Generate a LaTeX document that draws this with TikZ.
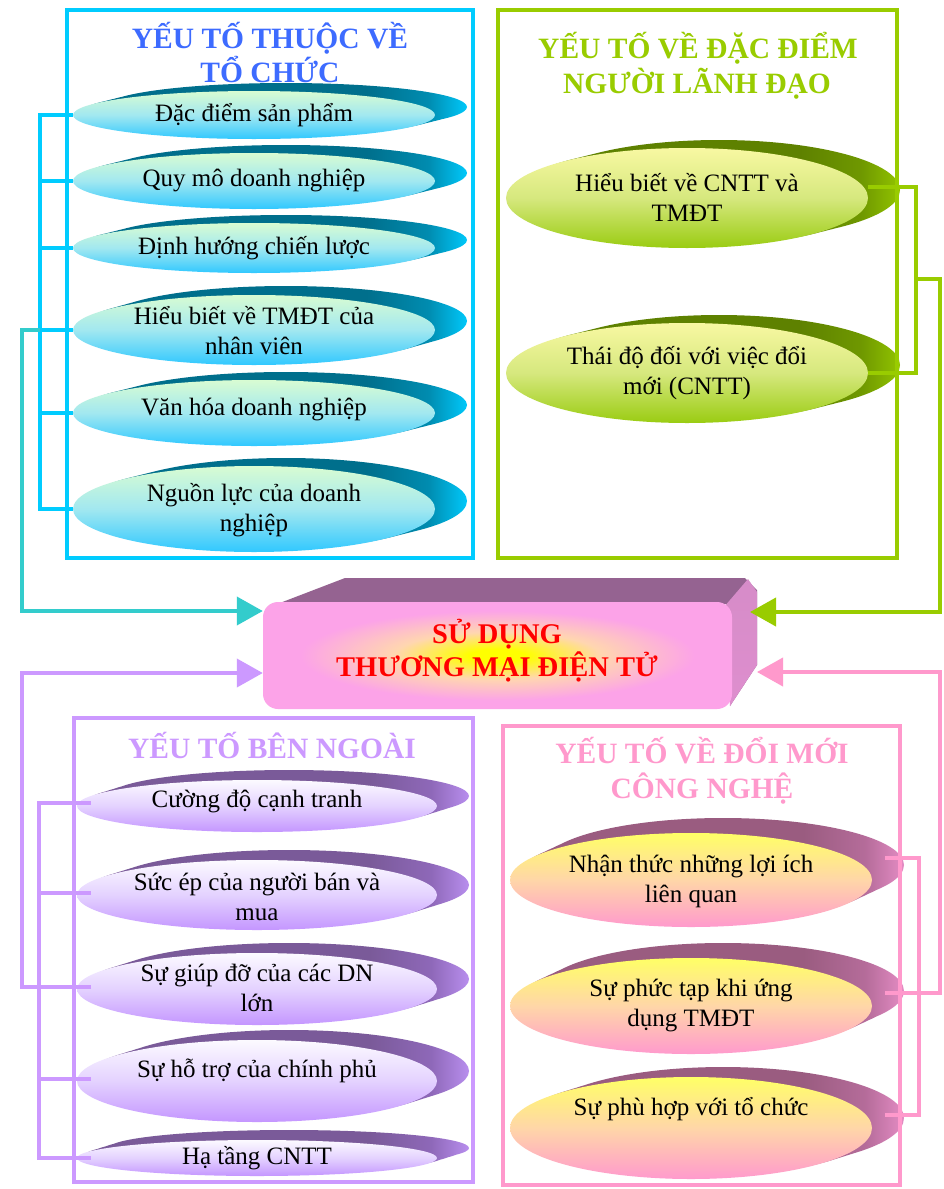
\documentclass[tikz,border=0pt]{standalone}
\usepackage{fontspec}
\setmainfont{Liberation Serif}
\usetikzlibrary{arrows.meta,calc}

% line colours
\definecolor{cyLine}{HTML}{00CCFF}
\definecolor{tealLine}{HTML}{33CCCC}
\definecolor{grLine}{HTML}{99CC00}
\definecolor{lvLine}{HTML}{CC99FF}
\definecolor{pkLine}{HTML}{FF99CC}
\definecolor{blueTitle}{HTML}{3D6BFF}
% cyan ellipses
\definecolor{cyT}{HTML}{D8FCD2}\definecolor{cyM}{HTML}{A2E8F0}\definecolor{cyB}{HTML}{30C8FF}
\definecolor{cyD}{HTML}{006F8C}\definecolor{cyX}{HTML}{008CB0}\definecolor{cyL}{HTML}{00C8FA}
% green ellipses
\definecolor{grT}{HTML}{F8F8A2}\definecolor{grM}{HTML}{D6E87E}\definecolor{grB}{HTML}{9ACC12}
\definecolor{grD}{HTML}{5E8100}\definecolor{grX}{HTML}{6F9800}\definecolor{grL}{HTML}{92C400}
% lavender ellipses
\definecolor{lvT}{HTML}{FCFAFF}\definecolor{lvM}{HTML}{E4D2FF}\definecolor{lvB}{HTML}{C496FF}
\definecolor{lvD}{HTML}{7A5A99}\definecolor{lvX}{HTML}{8E68B8}\definecolor{lvL}{HTML}{B88EEE}
% pink ellipses
\definecolor{pkT}{HTML}{FFFF66}\definecolor{pkM}{HTML}{FFD6A8}\definecolor{pkB}{HTML}{FF9ACD}
\definecolor{pkD}{HTML}{9A5C80}\definecolor{pkX}{HTML}{B56C9A}\definecolor{pkL}{HTML}{E48CC4}
% core box
\definecolor{pinkF}{HTML}{FCA3E8}
\definecolor{glowP}{HTML}{FFD6B0}
\definecolor{topFace}{HTML}{956391}
\definecolor{sideA}{HTML}{D68CC8}
\definecolor{sideB}{HTML}{DE8ECE}

\pgfdeclarehorizontalshading{cydark}{100bp}{color(0bp)=(cyD); color(25bp)=(cyD); color(62bp)=(cyD); color(70bp)=(cyX); color(75bp)=(cyL); color(100bp)=(cyL)}
\pgfdeclarehorizontalshading{grdark}{100bp}{color(0bp)=(grD); color(25bp)=(grD); color(62bp)=(grD); color(70bp)=(grX); color(75bp)=(grL); color(100bp)=(grL)}
\pgfdeclarehorizontalshading{lvdark}{100bp}{color(0bp)=(lvD); color(25bp)=(lvD); color(62bp)=(lvD); color(70bp)=(lvX); color(75bp)=(lvL); color(100bp)=(lvL)}
\pgfdeclarehorizontalshading{pkdark}{100bp}{color(0bp)=(pkD); color(25bp)=(pkD); color(62bp)=(pkD); color(70bp)=(pkX); color(75bp)=(pkL); color(100bp)=(pkL)}
\pgfdeclareradialshading{coreglow}{\pgfpoint{0bp}{0bp}}{color(0bp)=(yellow); color(3bp)=(yellow); color(11bp)=(glowP); color(21bp)=(pinkF); color(50bp)=(pinkF)}

% #1 name, #2 scheme, #3 cx, #4 cy, #5 rx, #6 ry, #7 lift, #8 text, #9 text y
\newcommand{\facell}[9]{%
  \shade[shading=#2dark]
    ({#3+8},{#4-0.25*#7}) ellipse [x radius=#5pt, y radius=#6pt]
    ({#3+16},{#4-0.5*#7}) ellipse [x radius=#5pt, y radius=#6pt]
    ({#3+24},{#4-0.75*#7}) ellipse [x radius=#5pt, y radius=#6pt]
    ({#3+32},{#4-#7}) ellipse [x radius=#5pt, y radius=#6pt];
  \shade[top color=#2T, bottom color=#2B, middle color=#2M]
    (#3,#4) ellipse [x radius=#5pt, y radius=#6pt];
  \coordinate (#1-w) at ({#3-#5},#4);
  \coordinate (#1-e) at ({#3+#5},#4);
  \node[itemtxt] (#1) at (#3,#9) {#8};
}

\begin{document}
\begin{tikzpicture}[x=1pt,y=-1pt,
  itemtxt/.style={font=\fontsize{25}{30}\selectfont, align=center, inner sep=0pt, text=black},
  ttl/.style={font=\fontsize{29.5}{34}\selectfont\bfseries, anchor=base, inner sep=0pt},
  boxframe/.style={line width=4.5pt},
  conn/.style={line width=4pt},
  arrowend/.style={-{Triangle[length=26pt,width=28pt]}},
  coretxt/.style={font=\fontsize{28.5}{33}\selectfont\bfseries, text=red, align=center, inner sep=0pt}
]
\useasboundingbox (0,0) rectangle (943,1189);
\fill[white] (0,0) rectangle (943,1189);

% titles
\node[ttl, text=blueTitle] (t1a) at (270,48) {YẾU TỐ THUỘC VỀ};
\node[ttl, text=blueTitle] (t1b) at (270,82) {TỔ CHỨC};
\node[ttl, text=grLine] (t2a) at (698,58) {YẾU TỐ VỀ ĐẶC ĐIỂM};
\node[ttl, text=grLine] (t2b) at (697,93) {NGƯỜI LÃNH ĐẠO};
\node[ttl, text=lvLine] (t3a) at (272,758) {YẾU TỐ BÊN NGOÀI};
\node[ttl, text=pkLine] (t4a) at (702,763) {YẾU TỐ VỀ ĐỔI MỚI};
\node[ttl, text=pkLine] (t4b) at (702,798) {CÔNG NGHỆ};

% organisation factors
\facell{ce1}{cy}{254}{115}{181}{24}{8}{Đặc điểm sản phẩm}{115}
\facell{ce2}{cy}{254}{181}{181}{28}{8}{Quy mô doanh nghiệp}{180}
\facell{ce3}{cy}{254}{248}{181}{25}{8}{Định hướng chiến lược}{248}
\facell{ce4}{cy}{254}{330}{181}{35}{9}{Hiểu biết về TMĐT của\\nhân viên}{331}
\facell{ce5}{cy}{254}{413}{181}{33}{8}{Văn hóa doanh nghiệp}{409}
\facell{ce6}{cy}{254}{509}{181}{43}{8}{Nguồn lực của doanh\\nghiệp}{510}

% leader factors
\facell{ge1}{gr}{687}{198}{181}{50}{8}{Hiểu biết về CNTT và\\TMĐT}{197}
\facell{ge2}{gr}{687}{373}{181}{50}{8}{Thái độ đối với việc đổi\\mới (CNTT)}{373}

% external factors
\facell{le1}{lv}{257}{806}{180}{26}{10}{Cường độ cạnh tranh}{801}
\facell{le2}{lv}{257}{895}{180}{35}{10}{Sức ép của người bán và\\mua}{897}
\facell{le3}{lv}{257}{989}{180}{36}{10}{Sự giúp đỡ của các DN\\lớn}{988}
\facell{le4}{lv}{257}{1081}{180}{41}{10}{Sự hỗ trợ của chính phủ}{1071}
\facell{le5}{lv}{257}{1158}{180}{18}{10}{Hạ tầng CNTT}{1158}

% technology innovation factors
\facell{pe1}{pk}{691}{880}{181}{47}{15}{Nhận thức những lợi ích\\liên quan}{881}
\facell{pe2}{pk}{691}{1006}{181}{48}{15}{Sự phức tạp khi ứng\\dụng TMĐT}{1005}
\facell{pe3}{pk}{691}{1128}{181}{51}{10}{Sự phù hợp với tổ chức}{1109}

% central 3D box
\fill[topFace] (272,606) -- (345,578) -- (745,578) -- (757,590) -- (757,665) -- (730,706) -- (730,604) -- cycle;
\shade[top color=sideA, bottom color=sideB] (724,607) -- (748,579) -- (757,592) -- (757,665) -- (730,706) -- cycle;
\node[shade, shading=coreglow, rounded corners=15pt, minimum width=469pt, minimum height=107pt, inner sep=0pt] (core) at (497.5,655.5) {};
\node[coretxt] (coretext) at (497,651) {SỬ DỤNG\\THƯƠNG MẠI ĐIỆN TỬ};

% frames
\draw[boxframe, cyLine] (67,10) rectangle (473,558);
\draw[boxframe, grLine] (498,10) rectangle (897,558);
\draw[boxframe, lvLine] (74,718) rectangle (473,1182);
\draw[boxframe, pkLine] (503,726) rectangle (900,1185);

% helper rows for arrows
\coordinate (trow) at (0,611);
\coordinate (lrow) at (0,673);
\coordinate (gEnd) at (750,612);
\coordinate (pEnd) at (757,672);
\coordinate (gmid) at (916,279);

% organisation connectors
\draw[conn, cyLine] (ce1-w) -- ++(-33,0) |- (ce6-w);
\foreach \i in {2,3,4,5} \draw[conn, cyLine] (ce\i-w) -- ++(-33,0);
\draw[conn, tealLine, arrowend] ($(ce4-w)+(-33,0)$) -- ++(-18,0) |- (core.west |- trow);

% leader connectors
\draw[conn, grLine] ($(ge1-e)+(0,-11)$) -- ++(48,0) |- (ge2-e);
\draw[conn, grLine, arrowend] (gmid) -- ++(24,0) |- (gEnd);

% external connectors
\draw[conn, lvLine] ($(le1-w)+(14,-3)$) -- ++(-52,0) |- ($(le5-w)+(14,0)$);
\foreach \i in {2,3,4} \draw[conn, lvLine] ($(le\i-w)+(14,-2)$) -- ++(-52,0);
\draw[conn, lvLine, arrowend] ($(le3-w)+(-38,-2)$) -- ++(-17,0) |- (core.west |- lrow);

% technology connectors
\draw[conn, pkLine] ($(pe1-e)+(13,-22)$) -- ++(34,0) |- ($(pe3-e)+(13,-13)$);
\draw[conn, pkLine, arrowend] ($(pe2-e)+(13,-13)$) -- ++(55,0) |- (pEnd);
\end{tikzpicture}
\end{document}
